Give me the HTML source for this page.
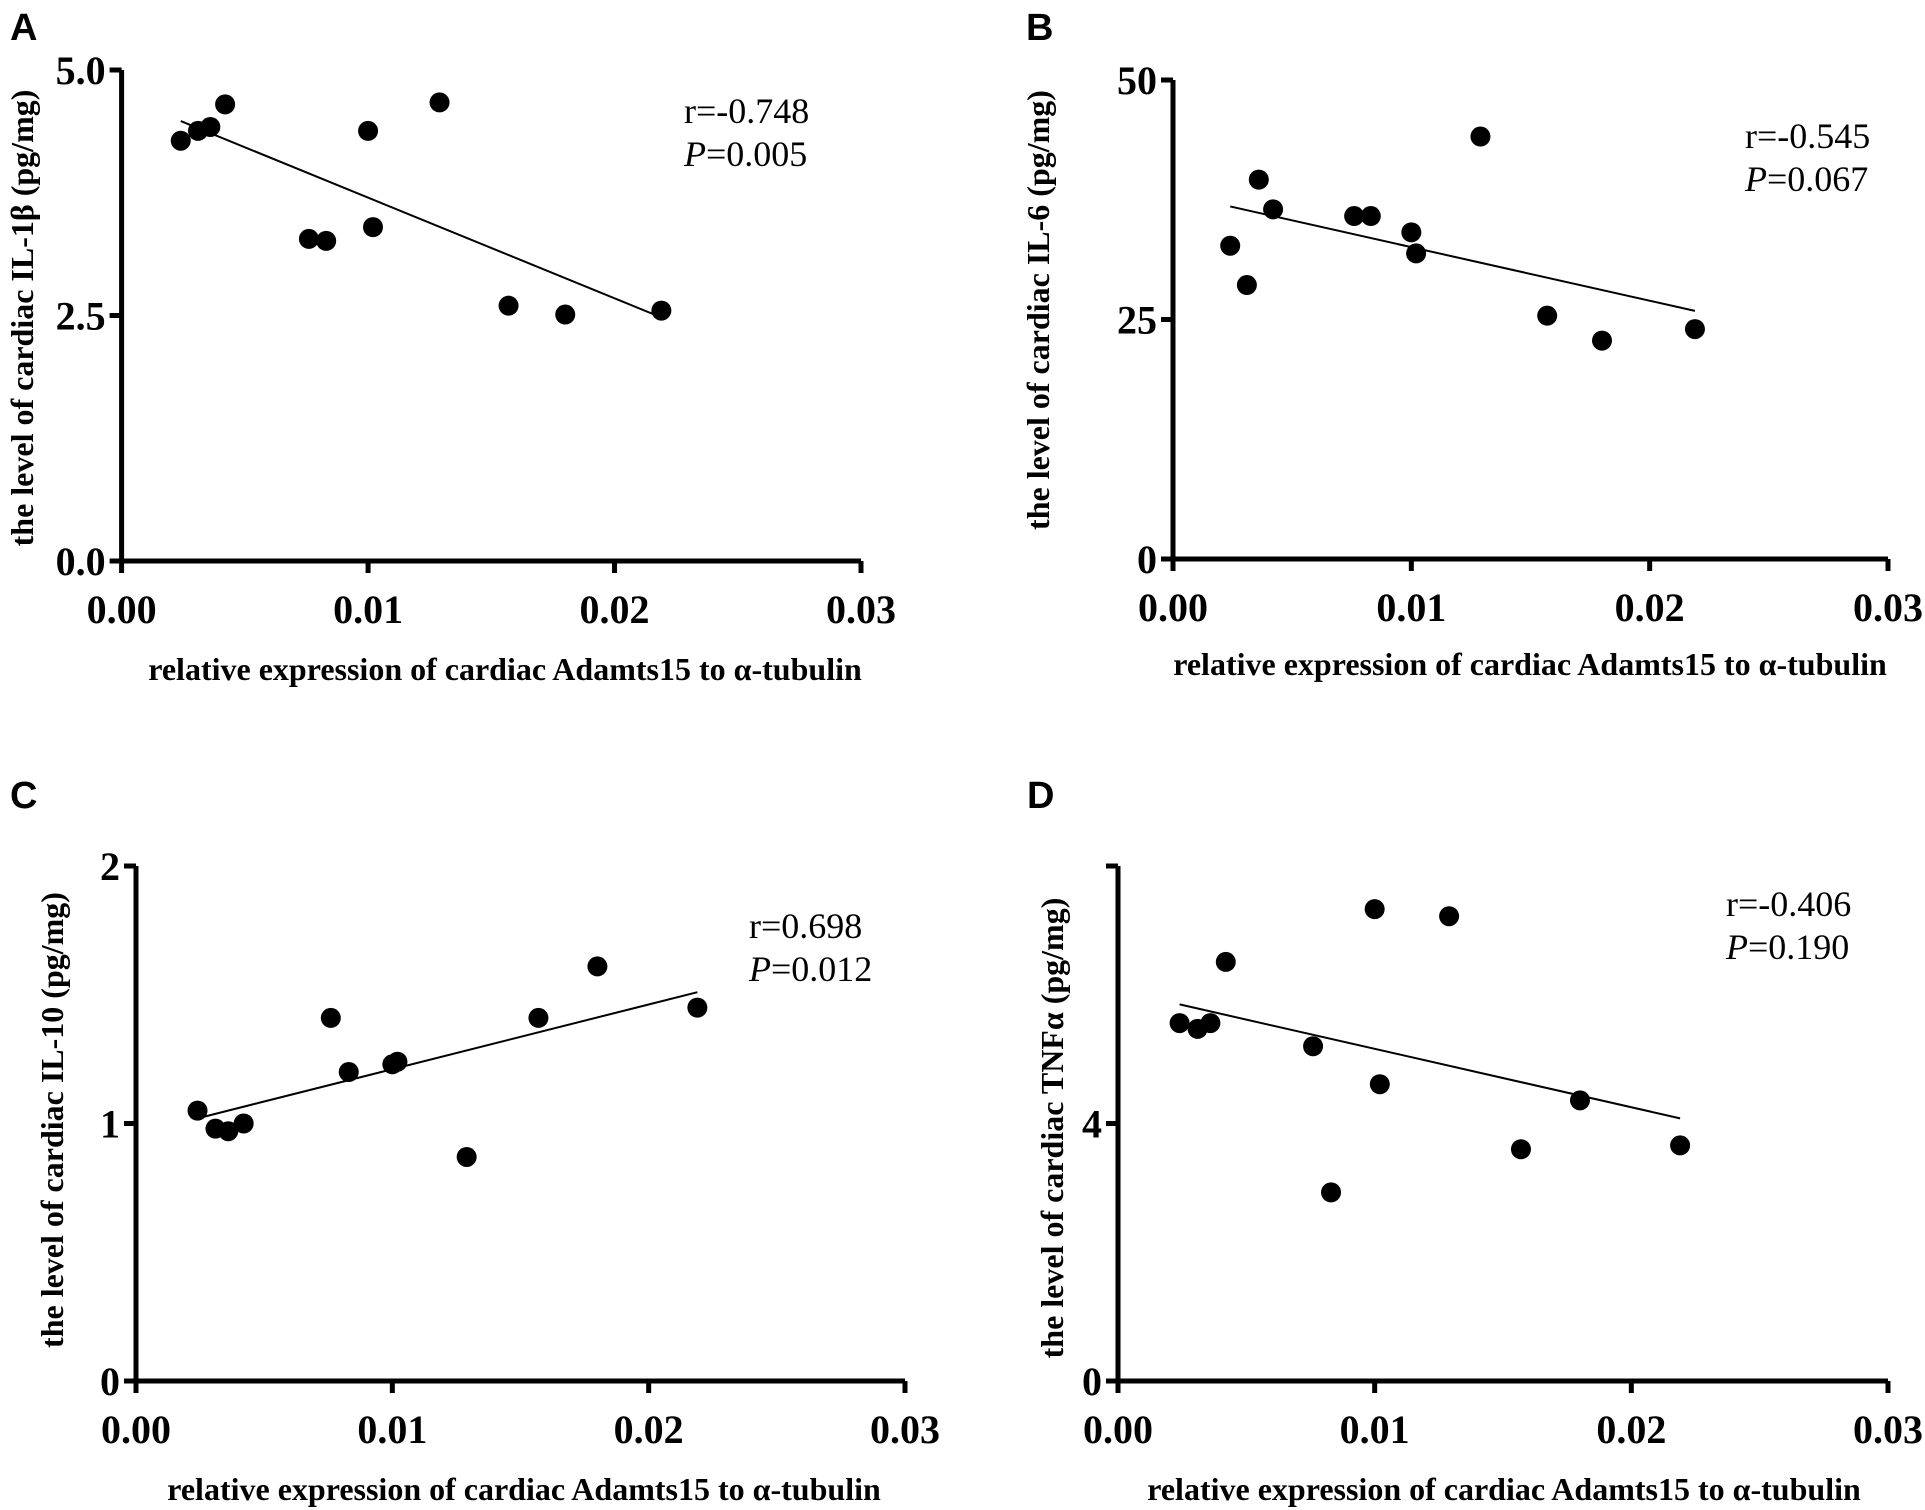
<!DOCTYPE html>
<html><head><meta charset="utf-8"><style>
html,body{margin:0;padding:0;background:#fff;}
svg{display:block;}
</style></head><body>
<svg id="fig" width="1925" height="1510" viewBox="0 0 1925 1510" font-family="Liberation Serif, serif"></svg>
<script>
const xValues = [2.4, 3.1, 3.6, 4.2, 7.6, 8.3, 10.0, 10.2, 12.9, 15.7, 18.0, 21.9];
const xTickLabels = ["0.00", "0.01", "0.02", "0.03"];
const seriesA = [4.28, 4.38, 4.42, 4.65, 3.28, 3.26, 4.38, 3.40, 4.67, 2.60, 2.51, 2.55];
const fitA = [4.48, 2.48];
const yTicksA = ["0.0", "2.5", "5.0"];
const seriesB = [32.7, 28.6, 39.6, 36.5, 35.8, 35.8, 34.1, 31.9, 44.1, 25.4, 22.8, 24.0];
const fitB = [36.8, 25.9];
const yTicksB = ["0", "25", "50"];
const seriesC = [1.05, 0.98, 0.97, 1.00, 1.41, 1.20, 1.23, 1.24, 0.87, 1.41, 1.61, 1.45];
const fitC = [1.02, 1.51];
const yTicksC = ["0", "1", "2"];
const seriesD = [5.56, 5.47, 5.56, 6.51, 5.20, 2.93, 7.33, 4.61, 7.22, 3.60, 4.36, 3.66];
const fitD = [5.85, 4.08];
const yTicksD = ["0", "4", ""];

const NS = "http://www.w3.org/2000/svg";
const fig = document.getElementById('fig');
function mk(tag, attrs, parent, text){
  const e = document.createElementNS(NS, tag);
  for (const k in attrs) e.setAttribute(k, attrs[k]);
  if (text !== undefined) e.textContent = text;
  parent.appendChild(e);
  return e;
}
const panels = [
  {id:'a', letter:'A', lx:10, ly:40, x0:121.6, x1:861, y0:561, y1:70, ymax:5, ys:seriesA, fit:fitA, yt:yTicksA,
   ylab:'the level of cardiac IL-1β (pg/mg)', ylx:22, yly:318, tx:505, ty:680, r:'r=-0.748', p:'=0.005', sx:684, sy:123, clip:false},
  {id:'b', letter:'B', lx:1026, ly:40, x0:1173, x1:1888, y0:559, y1:80, ymax:50, ys:seriesB, fit:fitB, yt:yTicksB,
   ylab:'the level of cardiac IL-6 (pg/mg)', ylx:1038, yly:310, tx:1530, ty:675, r:'r=-0.545', p:'=0.067', sx:1745, sy:148, clip:false},
  {id:'c', letter:'C', lx:10, ly:808, x0:136, x1:905, y0:1381, y1:866, ymax:2, ys:seriesC, fit:fitC, yt:yTicksC,
   ylab:'the level of cardiac IL-10 (pg/mg)', ylx:52, yly:1120, tx:524, ty:1500, r:'r=0.698', p:'=0.012', sx:749, sy:938, clip:false},
  {id:'d', letter:'D', lx:1027, ly:808, x0:1118, x1:1888, y0:1381, y1:866, ymax:8, ys:seriesD, fit:fitD, yt:yTicksD,
   ylab:'the level of cardiac TNFα (pg/mg)', ylx:1052, yly:1128, tx:1504, ty:1500, r:'r=-0.406', p:'=0.190', sx:1726, sy:916, clip:true}
];
panels.forEach(P=>{
  const g = mk('g', {}, fig);
  
  
  const sx = v => P.x0 + (v/30)*(P.x1-P.x0);
  const sy = v => P.y0 - (v/P.ymax)*(P.y0-P.y1);
  const yt = mk('text', {x:0, y:0, transform:`translate(${P.ylx+11},${P.yly}) rotate(-90)`, 'text-anchor':'middle', 'font-weight':'bold', 'font-size':32}, g, P.ylab);
  
  
  if (P.clip) {
    const w = mk('rect', {x:P.x0-90, y:P.y1-40, width:80, height:52, fill:'#fff'}, g);
    
    
  }
  const L = mk('text', {x:P.lx, y:P.ly, 'font-family':'Liberation Sans, sans-serif', 'font-weight':'bold', 'font-size':38}, g, P.letter);
  
  
  P.yt.forEach((t,i)=>{
    const y = sy(i*P.ymax/2);
    mk('line', {x1:P.x0-12, y1:y, x2:P.x0, y2:y, stroke:'#000', 'stroke-width':5}, g);
    const tl = mk('text', {x:P.x0-16, y:y+14, 'text-anchor':'end', 'font-weight':'bold', 'font-size':40}, g, t);
    
    
  });
  const ax = mk('path', {d:`M${P.x0},${P.y1} L${P.x0},${P.y0} L${P.x1},${P.y0}`, fill:'none', stroke:'#000', 'stroke-width':5}, g);
  
  
  xTickLabels.forEach((t,i)=>{
    const x = sx(i*10);
    mk('line', {x1:x, y1:P.y0, x2:x, y2:P.y0+12, stroke:'#000', 'stroke-width':5}, g);
    const tl = mk('text', {x:x, y:P.y0+62, 'text-anchor':'middle', 'font-weight':'bold', 'font-size':40}, g, t);
    
    
  });
  const xt = mk('text', {x:P.tx, y:P.ty, 'text-anchor':'middle', 'font-weight':'bold', 'font-size':32}, g, 'relative expression of cardiac Adamts15 to α-tubulin');
  
  
  const fl = mk('line', {x1:sx(xValues[0]), y1:sy(P.fit[0]), x2:sx(xValues[xValues.length-1]), y2:sy(P.fit[1]), stroke:'#000', 'stroke-width':2}, g);
  
  
  P.ys.forEach((v,i)=>{
    const c = mk('circle', {cx:sx(xValues[i]), cy:sy(v), r:10, fill:'#000'}, g);
    
    
  });
  const rt = mk('text', {x:P.sx, y:P.sy, 'font-size':36}, g, P.r);
  
  
  const pt = mk('text', {x:P.sx, y:P.sy+43, 'font-size':36}, g);
  
  
  mk('tspan', {'font-style':'italic'}, pt, 'P');
  mk('tspan', {}, pt, P.p);
});
</script>
</body></html>
